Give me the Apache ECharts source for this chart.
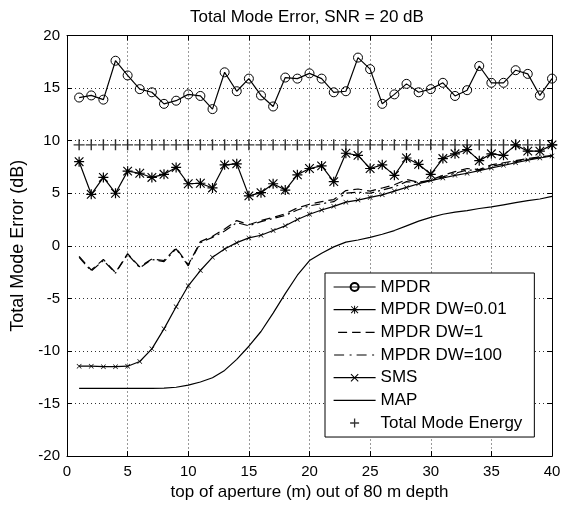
<!DOCTYPE html>
<html><head><meta charset="utf-8">
<script src="https://cdn.jsdelivr.net/npm/echarts@6/dist/echarts.min.js"></script>
<style>html,body{margin:0;padding:0;background:#fff}#c{width:565px;height:506px}</style>
</head><body><div id="c"></div>
<script>
// ---- data ----
const apertureTop = [1,2,3,4,5,6,7,8,9,10,11,12,13,14,15,16,17,18,19,20,21,22,23,24,25,26,27,28,29,30,31,32,33,34,35,36,37,38,39,40];
const mpdr = [14.1,14.3,13.9,17.6,16.2,14.9,14.6,13.5,13.8,14.4,14.25,13.0,16.5,14.7,15.9,14.3,13.25,16.0,15.9,16.4,15.9,14.6,14.7,17.9,16.8,13.5,14.4,15.4,14.6,14.9,15.5,14.25,14.8,17.1,15.5,15.5,16.7,16.35,14.3,15.9];
const mpdrDw001 = [8.0,4.9,6.5,5.0,7.1,6.9,6.5,6.8,7.45,5.9,5.95,5.5,7.7,7.8,4.75,5.05,5.9,5.3,6.75,7.35,7.6,6.1,8.8,8.6,7.35,7.7,6.7,8.35,7.75,6.8,8.3,8.75,9.15,8.1,8.75,8.6,9.6,9.0,9.0,9.6];
const mpdrDw1 = [-1.0,-2.3,-1.3,-2.55,-0.75,-2.0,-1.25,-1.4,-0.2,-1.8,0.4,0.9,1.6,2.4,2.0,2.4,2.7,3.05,3.6,3.95,4.2,4.4,5.25,5.4,5.2,5.5,5.8,6.3,6.05,6.25,6.7,7.05,7.35,7.25,7.7,7.9,8.1,8.3,8.45,8.6];
const mpdrDw100 = [-1.1,-2.4,-1.4,-2.6,-0.8,-2.1,-1.3,-1.5,-0.3,-1.9,0.3,0.8,1.4,2.2,1.9,2.3,2.6,2.9,3.4,3.8,4.0,4.2,5.0,5.1,5.0,5.3,5.6,6.1,6.0,6.2,6.55,6.9,7.2,7.2,7.55,7.8,8.0,8.25,8.4,8.6];
const sms = [-11.45,-11.45,-11.5,-11.5,-11.45,-11.0,-9.8,-7.9,-5.8,-3.8,-2.35,-1.1,-0.3,0.3,0.75,1.0,1.45,1.9,2.5,3.0,3.4,3.75,4.15,4.35,4.6,4.85,5.2,5.55,5.9,6.2,6.45,6.7,6.9,7.15,7.4,7.65,7.9,8.15,8.35,8.55];
const map = [-13.55,-13.55,-13.55,-13.55,-13.55,-13.55,-13.55,-13.53,-13.45,-13.25,-12.95,-12.55,-11.85,-10.8,-9.55,-8.15,-6.4,-4.55,-2.8,-1.4,-0.7,-0.1,0.35,0.55,0.8,1.1,1.45,1.9,2.35,2.7,3.0,3.2,3.35,3.55,3.7,3.9,4.1,4.3,4.45,4.7];
const totalModeEnergy = [9.6,9.6,9.6,9.6,9.6,9.6,9.6,9.6,9.6,9.6,9.6,9.6,9.6,9.6,9.6,9.6,9.6,9.6,9.6,9.6,9.6,9.6,9.6,9.6,9.6,9.6,9.6,9.6,9.6,9.6,9.6,9.6,9.6,9.6,9.6,9.6,9.6,9.6,9.6,9.6];
const seriesNames = ['MPDR','MPDR DW=0.01','MPDR DW=1','MPDR DW=100','SMS','MAP','Total Mode Energy'];
const xTicks = [0,5,10,15,20,25,30,35,40];
const yTicks = [-20,-15,-10,-5,0,5,10,15,20];
const titleText = 'Total Mode Error, SNR = 20 dB';
const xName = 'top of aperture (m) out of 80 m depth';
const yName = 'Total Mode Error (dB)';

// ---- rendering ----
const pairs = ys => apertureTop.map((x,i)=>[x, ys[i]]);
const PLUS = 'path://M4.35,0H5.65V4.35H10V5.65H5.65V10H4.35V5.65H0V4.35H4.35Z';
const XMARK = 'path://M0,0.9L0.9,0L10,9.1L9.1,10Z M9.1,0L10,0.9L0.9,10L0,9.1Z';
const STAR = 'path://M4.4,0H5.6V4.4H10V5.6H5.6V10H4.4V5.6H0V4.4H4.4Z M0.3,1.1L1.1,0.3L9.7,8.9L8.9,9.7Z M8.9,0.3L9.7,1.1L1.1,9.7L0.3,8.9Z';
// legend sample icons in a 42x10 box (first two moves fix the bounding box)
const ICON_SOLID = 'path://M0,0M42,10M0,4.4H42V5.6H0Z';
const ICON_DASH = 'path://M0,0M42,10M4.5,4.4H13.5V5.6H4.5Z M18.5,4.4H27V5.6H18.5Z M32,4.4H41V5.6H32Z';
const ICON_DASHDOT = 'path://M0,0M42,10M0.5,4.4H10.5V5.6H0.5Z M16,4.4H18V5.6H16Z M23,4.4H33V5.6H23Z M38.5,4.4H40.5V5.6H38.5Z';
const ICON_PLUS = 'path://M0,0M42,10M20.35,0.5H21.65V4.35H25.5V5.65H21.65V9.5H20.35V5.65H16.5V4.35H20.35Z';
const FONT = "Liberation Sans";
const BLK = '#000';
const lw = 1.2;

function lineSeries(name, ys, extra){
  return Object.assign({
    name, type:'line', data: pairs(ys), symbol:'none',
    lineStyle:{color:BLK, width:lw},
    itemStyle:{color:BLK, borderWidth:0},
    emphasis:{disabled:true}, animation:false, silent:true
  }, extra||{});
}

const chart = echarts.init(document.getElementById('c'), null, {renderer:'canvas'});
chart.setOption({
  backgroundColor:'#fff',
  animation:false,
  textStyle:{fontFamily:FONT, color:BLK},
  title:{
    show:true, text:titleText, left:190, top:8, padding:0,
    textStyle:{fontFamily:FONT, fontSize:17, fontWeight:'normal', color:BLK, lineHeight:18}
  },
  grid:{left:67, right:13, top:35.5, bottom:45, show:false},
  legend:{
    orient:'vertical', left:325, top:273, padding:[5.5,12,5.5,8],
    itemWidth:42, itemHeight:10, itemGap:5.67,
    backgroundColor:'#fff', borderColor:BLK, borderWidth:1, borderRadius:0,
    textStyle:{fontFamily:FONT, fontSize:17, color:BLK},
    lineStyle:{width:lw},
    selectedMode:false,
    data:[
      {name:seriesNames[0]},
      {name:seriesNames[1]},
      {name:seriesNames[2], icon:ICON_DASH, itemStyle:{color:BLK, borderWidth:0}},
      {name:seriesNames[3], icon:ICON_DASHDOT, itemStyle:{color:BLK, borderWidth:0}},
      {name:seriesNames[4]},
      {name:seriesNames[5], icon:ICON_SOLID, itemStyle:{color:BLK, borderWidth:0}},
      {name:seriesNames[6], icon:ICON_PLUS, itemStyle:{color:BLK, borderWidth:0}}
    ]
  },
  xAxis:[{
    type:'value', min:xTicks[0], max:xTicks[xTicks.length-1], interval:xTicks[1]-xTicks[0],
    name:xName, nameLocation:'middle', nameGap:26.5,
    nameTextStyle:{fontFamily:FONT, fontSize:17, color:BLK},
    axisLine:{show:true, onZero:false, lineStyle:{color:BLK, width:1}},
    axisTick:{show:true, inside:true, length:5, lineStyle:{color:BLK}},
    axisLabel:{fontFamily:FONT, fontSize:15, color:BLK, margin:8},
    splitLine:{show:true, lineStyle:{color:'#333', type:[1,3], width:1}}
  },{
    type:'value', position:'top', min:xTicks[0], max:xTicks[xTicks.length-1], interval:xTicks[1]-xTicks[0],
    axisLine:{show:true, onZero:false, lineStyle:{color:BLK, width:1}},
    axisTick:{show:true, inside:true, length:5, lineStyle:{color:BLK}},
    axisLabel:{show:false}, splitLine:{show:false}
  }],
  yAxis:[{
    type:'value', min:yTicks[0], max:yTicks[yTicks.length-1], interval:yTicks[1]-yTicks[0],
    name:yName, nameLocation:'middle', nameGap:33, nameRotate:90,
    nameTextStyle:{fontFamily:FONT, fontSize:18, color:BLK},
    axisLine:{show:true, onZero:false, lineStyle:{color:BLK, width:1}},
    axisTick:{show:true, inside:true, length:5, lineStyle:{color:BLK}},
    axisLabel:{fontFamily:FONT, fontSize:15, color:BLK, margin:7},
    splitLine:{show:true, lineStyle:{color:'#333', type:[1,3], width:1}}
  },{
    type:'value', position:'right', min:yTicks[0], max:yTicks[yTicks.length-1], interval:yTicks[1]-yTicks[0],
    axisLine:{show:true, onZero:false, lineStyle:{color:BLK, width:1}},
    axisTick:{show:true, inside:true, length:5, lineStyle:{color:BLK}},
    axisLabel:{show:false}, splitLine:{show:false}
  }],
  series:[
    lineSeries(seriesNames[0], mpdr, {symbol:'circle', symbolSize:9,
      itemStyle:{color:'rgba(255,255,255,0)', borderColor:BLK, borderWidth:1}}),
    lineSeries(seriesNames[1], mpdrDw001, {symbol:STAR, symbolSize:10}),
    lineSeries(seriesNames[2], mpdrDw1, {lineStyle:{color:BLK, width:lw, type:[9,5]}}),
    lineSeries(seriesNames[3], mpdrDw100, {lineStyle:{color:BLK, width:lw, type:[9,4,2,4]}}),
    lineSeries(seriesNames[4], sms, {symbol:XMARK, symbolSize:5}),
    lineSeries(seriesNames[5], map, {}),
    {name:seriesNames[6], type:'scatter', data:pairs(totalModeEnergy), symbol:PLUS, symbolSize:11,
      itemStyle:{color:BLK, borderWidth:0}, emphasis:{disabled:true}, silent:true, animation:false}
  ]
});
</script>
</body></html>
